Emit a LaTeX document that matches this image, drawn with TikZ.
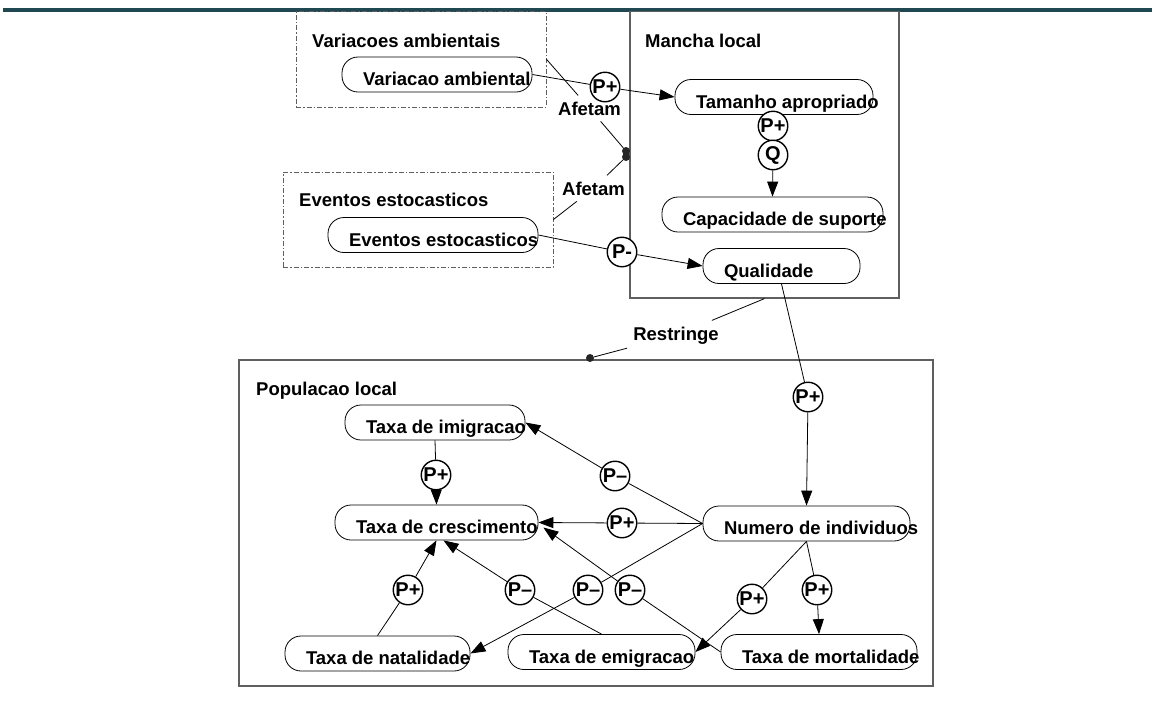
\documentclass[tikz,border=0pt]{standalone}
\usepackage{fontspec}
\setmainfont{Liberation Sans}
\usetikzlibrary{arrows.meta}
\definecolor{bandcol}{RGB}{31,72,82}
\definecolor{framecol}{RGB}{95,95,95}
\newcommand{\pilltxt}[2]{\makebox[#1][l]{\hspace{21pt}#2}}
\begin{document}
\begin{tikzpicture}[x=1pt,y=-1pt,
  font=\fontsize{18.5pt}{22pt}\selectfont\bfseries,
  frame/.style={draw=framecol,line width=1.2pt,rectangle,inner sep=0pt},
  dframe/.style={draw=framecol,line width=0.9pt,rectangle,inner sep=0pt,
     dash pattern=on 5pt off 2pt on 1.5pt off 2pt},
  pill/.style={draw,line width=0.8pt,rectangle,rounded corners=16pt,
     minimum height=35pt,inner sep=0pt,text height=22pt,text depth=0pt},
  pc/.style={circle,draw,fill=white,line width=1.4pt,minimum size=29.5pt,inner sep=0pt,
     font=\fontsize{20pt}{22pt}\selectfont\bfseries},
  lbl/.style={inner sep=6pt},
  dotn/.style={circle,fill=black!85,inner sep=0pt,minimum size=8pt},
  conn/.style={line width=0.8pt},
  arr/.style={line width=0.8pt,-{Triangle[length=15pt,width=11pt]}}]
\useasboundingbox[fill=white] (0,0) rectangle (1152,702);
\fill[bandcol] (3,7.5) rectangle (1152,11.5);
% frames
\node[dframe,minimum width=250pt,minimum height=95.5pt] (varbox) at (421,59.25) {};
\node[dframe,minimum width=270pt,minimum height=95pt] (evbox) at (418,219.5) {};
\node[frame,minimum width=269pt,minimum height=286.5pt] (mancha) at (764.5,154.75) {};
\node[frame,minimum width=694pt,minimum height=326pt] (pop) at (586,523) {};
% titles
\node[anchor=base west,inner sep=0pt] (tvar) at (312,47) {Variacoes ambientais};
\node[anchor=base west,inner sep=0pt] (tman) at (645,47) {Mancha local};
\node[anchor=base west,inner sep=0pt] (tevt) at (299,206) {Eventos estocasticos};
\node[anchor=base west,inner sep=0pt] (tpop) at (256,395) {Populacao local};
% pills
\node[pill] (var) at (437,74.5) {\pilltxt{190pt}{Variacao ambiental}};
\node[pill] (tam) at (774,97) {\pilltxt{198pt}{Tamanho apropriado}};
\node[pill] (cap) at (772.5,214.5) {\pilltxt{221pt}{Capacidade de suporte}};
\node[pill] (qual) at (781.5,266) {\pilltxt{157pt}{Qualidade}};
\node[pill] (evt) at (433,235) {\pilltxt{210pt}{Eventos estocasticos}};
\node[pill] (imi) at (435,422.5) {\pilltxt{180pt}{Taxa de imigracao}};
\node[pill] (cres) at (436.5,522.5) {\pilltxt{203pt}{Taxa de crescimento}};
\node[pill] (num) at (806.5,523.5) {\pilltxt{207pt}{Numero de individuos}};
\node[pill] (nat) at (377.5,653.5) {\pilltxt{185pt}{Taxa de natalidade}};
\node[pill] (emi) at (601.5,652) {\pilltxt{187pt}{Taxa de emigracao}};
\node[pill] (mort) at (819,652) {\pilltxt{196pt}{Taxa de mortalidade}};
% labels and dots
\node[lbl,anchor=base] (af1) at (589.5,115) {Afetam};
\node[lbl,anchor=base] (af2) at (593.5,195) {Afetam};
\node[lbl,anchor=base] (restr) at (676,340) {Restringe};
\node[dotn] (d1) at (626,151) {};
\node[dotn] (d2) at (626,157) {};
\node[dotn] (d3) at (590,358) {};
% connectors (drawn before circles)
\draw[conn] (varbox.east) -- (af1) -- (d1);
\draw[conn] (d2) -- (af2) -- (evbox.east);
\draw[conn] (mancha.south) -- (restr) -- (d3);
% circles
\node[pc] (pv) at (605,87) {P+};
\node[pc] (pt) at (773,126) {P+};
\node[pc] (q) at (773,155) {Q};
\node[pc] (pe) at (622,252) {P-};
\node[pc] (pq) at (808,397) {P+};
\node[pc] (pn1) at (615,476) {P--};
\node[pc] (pn2) at (622,523) {P+};
\node[pc] (pn3) at (588,590) {P--};
\node[pc] (pn4) at (752,599) {P+};
\node[pc] (pn5) at (817,590) {P+};
\node[pc] (pi) at (436,475) {P+};
\node[pc] (pnat) at (408,590) {P+};
\node[pc] (pemi) at (520,590) {P--};
\node[pc] (pmort) at (630,590) {P--};
% influences
\draw[conn] (var.east) -- (pv); \draw[arr] (pv) -- (tam.west);
\draw[conn] (evt.east) -- (pe); \draw[arr] (pe) -- (qual.west);
\draw[arr] (q) -- (cap.north);
\draw[conn] (qual.south) -- (pq); \draw[arr] (pq) -- (num.north);
\draw[conn] (num.west) -- (pn1); \draw[arr] (pn1) -- (imi.east);
\draw[conn] (num.west) -- (pn2); \draw[arr] (pn2) -- (cres.east);
\draw[conn] (num.west) -- (pn3); \draw[arr] (pn3) -- (nat.east);
\draw[conn] (num.south) -- (pn4); \draw[arr] (pn4) -- (emi.east);
\draw[conn] (num.south) -- (pn5); \draw[arr] (pn5) -- (mort.north);
\draw[conn] (imi.south) -- (pi); \draw[arr] (pi) -- (cres.north);
\draw[conn] (nat.north) -- (pnat); \draw[arr] (pnat) -- (cres.south);
\draw[conn] (emi.north) -- (pemi); \draw[arr] (pemi) -- ([xshift=7pt]cres.south);
\draw[conn] (mort.west) -- (pmort); \draw[arr] (pmort) -- ([xshift=5pt,yshift=-5pt]cres.east);
\end{tikzpicture}
\end{document}
